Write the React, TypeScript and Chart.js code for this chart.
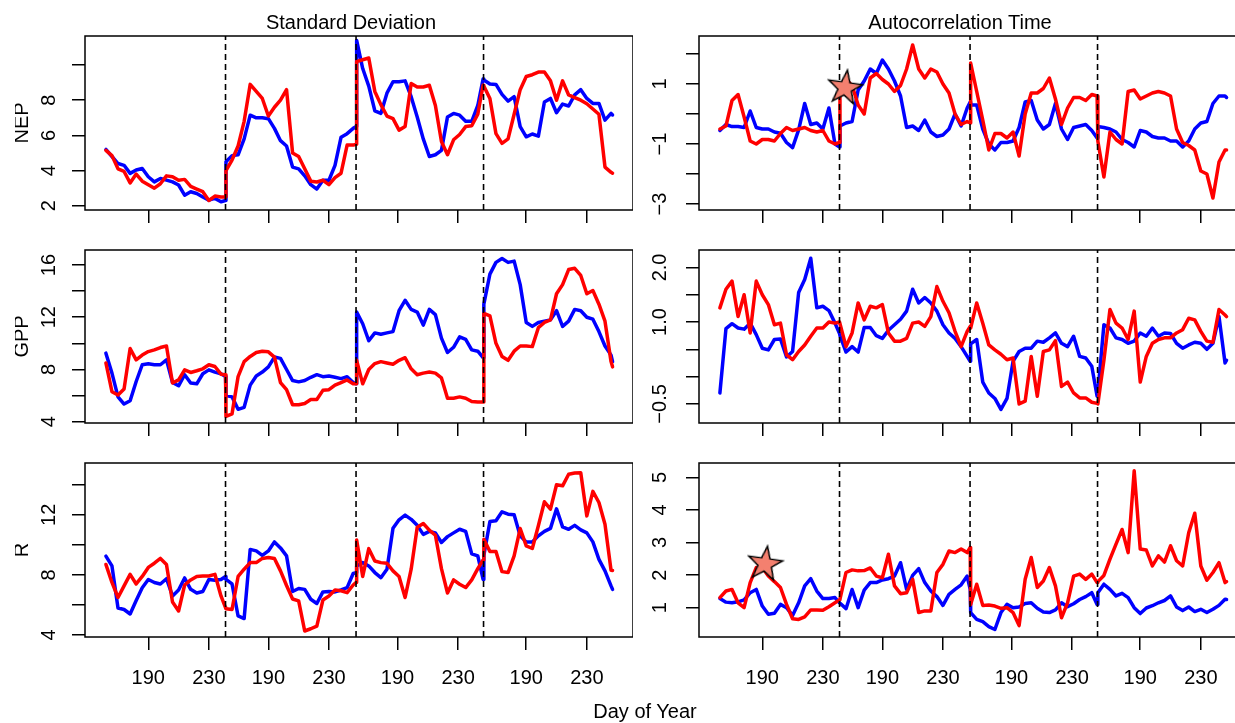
import React, { useEffect, useRef } from 'react';
import { Chart, registerables } from 'chart.js';

Chart.register(...registerables);

const FONT = '"Liberation Sans", Arial, Helvetica, sans-serif';
Chart.defaults.font.family = FONT;

// Four summers laid end to end on one continuous axis; each year is shifted by its offset.
const SEG_OFFSETS = [0, 79.3, 164.6, 249.6];
const SEG_DAYS = [
  [162, 166, 170, 174, 178, 182, 186, 190, 194, 198, 202, 206, 210, 214, 218, 222, 226, 230, 234, 238, 241],
  [162, 166, 170, 174, 178, 182, 186, 190, 194, 198, 202, 206, 210, 214, 218, 222, 226, 230, 234, 238, 242, 246, 248],
  [163, 167, 171, 175, 179, 183, 187, 191, 195, 199, 203, 207, 211, 215, 219, 223, 227, 231, 235, 239, 243, 246.5],
  [162, 166, 170, 174, 178, 182, 186, 190, 194, 198, 202, 206, 210, 214, 218, 222, 226, 230, 234, 238, 242, 246, 247],
];
const TICK_DAYS = [190, 230];
const TICK_LABELS = ['190', '230', '190', '230', '190', '230', '190', '230'];
const YEAR_BREAKS = [241.0, 327.2, 411.4];
const X_RANGE = [148.2, 510.1];

// NEP - standard deviation
const NEP_SD_BLUE = [
  [5.2, 4.8, 4.4, 4.3, 3.84, 4.03, 4.12, 3.65, 3.36, 3.55, 3.46, 3.36, 3.18, 2.6, 2.8, 2.7, 2.5, 2.32, 2.42, 2.23, 2.3],
  [4.5, 4.85, 4.9, 5.8, 7.15, 7.0, 7.0, 6.95, 6.4, 5.7, 5.4, 4.2, 4.1, 3.7, 3.2, 2.95, 3.45, 3.45, 4.3, 5.9, 6.1, 6.4, 6.5],
  [11.4, 9.8, 8.8, 7.4, 7.25, 8.4, 9.05, 9.05, 9.1, 8.2, 7.05, 5.8, 4.8, 4.9, 5.15, 7.05, 7.25, 7.15, 6.8, 6.8, 7.7, 9.2],
  [9.15, 8.92, 8.9, 8.33, 7.95, 8.2, 6.5, 5.92, 6.08, 5.96, 7.9, 8.1, 7.29, 7.78, 7.67, 8.3, 8.6, 8.1, 7.82, 7.82, 6.87, 7.25, 7.16],
];
const NEP_SD_RED = [
  [5.15, 4.85, 4.1, 3.95, 3.3, 3.8, 3.4, 3.2, 3.0, 3.25, 3.7, 3.65, 3.45, 3.5, 3.1, 2.95, 2.8, 2.3, 2.55, 2.5, 2.5],
  [4.0, 4.6, 5.4, 6.8, 8.9, 8.5, 8.1, 7.1, 7.6, 8.0, 8.6, 5.0, 4.8, 4.1, 3.4, 3.35, 3.45, 3.2, 3.6, 3.85, 5.45, 5.45, 5.5],
  [10.2, 10.3, 10.4, 8.5, 7.75, 7.1, 6.95, 6.3, 6.5, 8.95, 8.75, 8.75, 8.85, 7.7, 5.65, 4.9, 5.75, 6.05, 6.5, 6.55, 7.2, 8.85],
  [8.8, 8.1, 6.1, 5.55, 5.8, 7.2, 8.6, 9.35, 9.45, 9.6, 9.6, 9.1, 8.0, 9.1, 8.3, 8.15, 8.0, 7.8, 7.5, 7.2, 4.2, 3.9, 3.85],
];

// NEP - autocorrelation time
const NEP_AC_BLUE = [
  [-0.55, -0.35, -0.42, -0.42, -0.45, 0.1, -0.45, -0.5, -0.5, -0.6, -0.64, -0.95, -1.12, -0.53, 0.35, -0.35, -0.3, -0.5, 0.2, -1.0, -1.1],
  [-0.4, -0.3, -0.25, 0.8, 1.1, 1.5, 1.35, 1.8, 1.5, 1.1, 0.6, -0.45, -0.4, -0.55, -0.2, -0.6, -0.75, -0.7, -0.5, 0.0, -0.4, 0.2, 0.4],
  [0.3, 0.3, -0.5, -1.0, -1.2, -0.95, -0.95, -0.9, -0.45, 0.4, 0.45, -0.2, -0.5, -0.35, 0.35, -0.5, -0.85, -0.45, -0.4, -0.35, -0.55, -0.8],
  [-0.42, -0.45, -0.5, -0.6, -0.85, -0.95, -1.1, -0.55, -0.6, -0.75, -0.8, -0.8, -0.9, -0.9, -1.1, -0.9, -0.5, -0.3, -0.25, 0.35, 0.6, 0.6, 0.55],
];
const NEP_AC_RED = [
  [-0.5, -0.4, 0.45, 0.65, -0.1, -0.9, -1.0, -0.85, -0.85, -0.9, -0.65, -0.45, -0.55, -0.5, -0.45, -0.55, -0.6, -0.55, -0.9, -1.0, -0.95],
  [0.6, 1.15, 0.95, 0.3, 0.0, 1.2, 1.35, 1.15, 1.0, 0.75, 0.95, 1.5, 2.3, 1.5, 1.2, 1.5, 1.4, 1.0, 0.7, 0.0, -0.35, -0.25, -0.3],
  [1.7, 0.75, -0.2, -1.2, -0.65, -0.65, -0.8, -0.6, -1.4, 0.0, 0.7, 0.7, 0.85, 1.2, 0.5, -0.35, 0.2, 0.55, 0.55, 0.45, 0.65, 0.6],
  [-0.9, -2.1, -0.6, -0.85, -1.0, 0.75, 0.8, 0.5, 0.6, 0.7, 0.75, 0.7, 0.6, -0.5, -0.95, -1.05, -1.2, -1.9, -2.0, -2.8, -1.6, -1.2, -1.2],
];

// GPP - standard deviation
const GPP_SD_BLUE = [
  [9.25, 7.72, 5.9, 5.35, 5.6, 7.08, 8.36, 8.43, 8.36, 8.36, 8.74, 7.0, 6.75, 7.6, 6.96, 6.9, 7.67, 7.97, 7.8, 7.67, 7.46],
  [6.0, 5.9, 4.95, 5.1, 6.8, 7.5, 7.8, 8.2, 8.95, 8.85, 8.0, 7.15, 7.05, 7.15, 7.4, 7.6, 7.45, 7.5, 7.4, 7.3, 7.45, 7.0, 6.9],
  [12.4, 11.5, 10.2, 10.8, 10.7, 10.8, 10.9, 12.5, 13.3, 12.6, 12.4, 11.4, 12.6, 12.2, 10.4, 9.3, 9.7, 10.5, 10.3, 9.5, 9.4, 8.9],
  [13.0, 15.3, 16.2, 16.5, 16.2, 16.3, 14.5, 11.6, 11.3, 11.6, 11.7, 11.8, 12.5, 11.3, 11.7, 12.6, 12.5, 12.0, 11.85, 10.9, 9.8, 9.1, 8.6],
];
const GPP_SD_RED = [
  [8.5, 6.3, 6.04, 6.5, 9.6, 8.74, 9.1, 9.37, 9.5, 9.68, 9.8, 6.96, 7.2, 7.97, 7.77, 7.9, 8.05, 8.36, 8.23, 7.64, 7.6],
  [4.4, 4.6, 7.45, 8.6, 9.0, 9.3, 9.4, 9.35, 8.95, 7.0, 6.45, 5.3, 5.3, 5.4, 5.7, 5.7, 6.4, 6.45, 6.8, 7.0, 7.2, 6.9, 6.9],
  [8.7, 6.9, 8.0, 8.45, 8.6, 8.5, 8.4, 8.7, 8.9, 8.05, 7.6, 7.72, 7.8, 7.72, 7.35, 5.8, 5.8, 5.9, 5.8, 5.55, 5.5, 5.5],
  [12.3, 12.1, 10.0, 9.0, 8.7, 9.4, 9.8, 9.8, 9.75, 11.2, 11.6, 11.8, 13.8, 14.5, 15.65, 15.75, 15.2, 13.8, 14.05, 13.0, 11.7, 8.6, 8.2],
];

// GPP - autocorrelation time
const GPP_AC_BLUE = [
  [-0.3, 0.88, 0.97, 0.89, 0.87, 0.98, 0.77, 0.52, 0.49, 0.68, 0.69, 0.36, 0.46, 1.54, 1.78, 2.17, 1.26, 1.29, 1.21, 0.98, 0.79],
  [0.75, 0.45, 0.55, 0.45, 0.9, 0.9, 0.75, 0.7, 0.85, 0.95, 1.05, 1.2, 1.6, 1.35, 1.45, 1.35, 1.2, 0.95, 0.8, 0.7, 0.55, 0.37, 0.28],
  [0.6, 0.68, -0.1, -0.3, -0.4, -0.6, -0.4, 0.28, 0.46, 0.52, 0.52, 0.65, 0.63, 0.71, 0.8, 0.61, 0.55, 0.74, 0.37, 0.34, 0.19, -0.36],
  [-0.3, 0.95, 0.89, 0.71, 0.68, 0.61, 0.65, 0.8, 0.74, 0.89, 0.74, 0.8, 0.79, 0.61, 0.52, 0.58, 0.63, 0.61, 0.5, 0.61, 1.1, 0.25, 0.3],
];
const GPP_AC_RED = [
  [1.26, 1.6, 1.75, 1.1, 1.5, 0.8, 1.75, 1.5, 1.32, 0.95, 0.98, 0.4, 0.31, 0.46, 0.58, 0.74, 0.89, 0.89, 1.0, 0.98, 1.0],
  [1.0, 0.55, 0.8, 1.35, 1.04, 1.29, 1.26, 1.32, 0.8, 0.65, 0.65, 0.7, 0.98, 1.0, 0.92, 1.1, 1.65, 1.38, 1.17, 0.83, 0.55, 0.83, 0.92],
  [0.89, 1.35, 0.98, 0.58, 0.49, 0.41, 0.31, 0.34, -0.5, -0.45, 0.37, -0.36, 0.46, 0.49, 0.66, -0.18, -0.1, -0.3, -0.39, -0.39, -0.47, -0.49],
  [-0.5, 0.3, 1.23, 0.98, 0.89, 0.68, 1.2, -0.1, 0.37, 0.61, 0.68, 0.71, 0.71, 0.8, 0.86, 1.07, 1.04, 0.83, 0.65, 0.63, 1.23, 1.13, 1.1],
];

// R - standard deviation
const R_SD_BLUE = [
  [9.25, 8.6, 5.8, 5.7, 5.4, 6.3, 7.15, 7.7, 7.5, 7.4, 7.75, 6.6, 7.0, 7.8, 7.04, 6.8, 6.9, 7.7, 7.65, 7.7, 7.9],
  [7.7, 7.4, 5.27, 5.1, 9.7, 9.6, 9.3, 9.6, 10.2, 9.8, 9.27, 6.9, 7.1, 7.04, 6.38, 6.1, 6.87, 6.9, 6.87, 7.0, 7.16, 8.1, 8.15],
  [8.6, 8.82, 8.6, 8.16, 7.82, 8.38, 11.1, 11.67, 11.98, 11.7, 11.3, 10.7, 10.9, 10.8, 10.16, 10.55, 10.8, 11.04, 10.9, 9.4, 9.27, 7.7],
  [9.3, 11.55, 11.6, 12.2, 12.04, 12.0, 10.6, 10.2, 10.2, 10.6, 10.9, 11.1, 12.4, 11.2, 11.04, 11.3, 11.0, 10.8, 10.2, 9.04, 8.27, 7.27, 7.04],
];
const R_SD_RED = [
  [8.7, 7.5, 6.5, 7.27, 8.04, 7.4, 7.9, 8.5, 8.78, 9.1, 8.7, 6.2, 5.6, 7.33, 7.67, 7.9, 7.93, 7.93, 8.04, 6.6, 5.82],
  [5.75, 5.7, 7.9, 8.38, 8.82, 8.82, 9.1, 9.16, 9.1, 8.27, 7.3, 6.4, 6.27, 4.27, 4.42, 4.6, 6.33, 6.6, 7.0, 6.95, 6.82, 7.33, 7.5],
  [10.33, 7.9, 9.75, 8.93, 8.82, 8.78, 8.27, 7.9, 6.5, 8.38, 11.18, 11.42, 10.98, 10.64, 8.42, 6.8, 7.67, 7.38, 7.16, 7.67, 8.42, 9.0],
  [10.38, 9.56, 9.56, 8.22, 8.16, 9.27, 11.09, 9.93, 9.76, 11.27, 12.87, 12.38, 14.0, 13.93, 14.7, 14.78, 14.8, 11.93, 13.56, 12.82, 11.38, 8.31, 8.3],
];

// R - autocorrelation time
const R_AC_BLUE = [
  [1.28, 1.17, 1.15, 1.18, 1.24, 1.46, 1.56, 1.05, 0.8, 0.83, 1.1, 1.0, 0.76, 1.15, 1.67, 1.89, 1.51, 1.28, 1.28, 1.31, 1.15],
  [1.15, 0.97, 1.56, 1.0, 1.54, 1.77, 1.77, 1.85, 1.89, 1.97, 2.38, 1.56, 1.99, 2.2, 1.77, 1.51, 1.34, 1.07, 1.41, 1.56, 1.7, 1.97, 1.56],
  [0.85, 0.64, 0.57, 0.42, 0.33, 0.85, 1.1, 1.0, 1.02, 1.13, 1.15, 0.98, 0.87, 0.85, 0.93, 1.15, 1.03, 1.12, 1.25, 1.34, 1.46, 1.1],
  [1.46, 1.72, 1.56, 1.36, 1.44, 1.31, 1.0, 0.82, 0.99, 1.06, 1.15, 1.22, 1.36, 1.02, 0.91, 1.02, 0.88, 0.95, 0.85, 0.95, 1.07, 1.26, 1.25],
];
const R_AC_RED = [
  [1.31, 1.51, 1.56, 1.15, 1.0, 1.77, 2.23, 2.23, 1.97, 1.8, 1.62, 1.1, 0.66, 0.64, 0.72, 0.93, 0.93, 0.92, 1.03, 1.15, 1.24],
  [1.26, 2.08, 2.16, 2.13, 2.14, 2.22, 1.97, 1.92, 2.64, 1.67, 1.43, 1.46, 1.87, 0.85, 0.9, 0.9, 2.08, 2.33, 2.74, 2.69, 2.8, 2.69, 2.85],
  [1.1, 1.72, 1.07, 1.08, 1.05, 0.98, 1.0, 0.85, 0.45, 1.87, 2.54, 1.62, 1.82, 2.23, 1.67, 0.69, 1.15, 1.97, 2.03, 1.87, 2.03, 1.77],
  [1.8, 1.99, 2.49, 2.95, 3.4, 2.69, 5.2, 2.8, 2.77, 2.28, 2.59, 2.4, 2.9, 2.44, 2.28, 3.3, 3.9, 2.28, 1.84, 2.08, 2.38, 1.77, 1.8],
];

// Highlighted points (star markers): [continuous day, value]
const NEP_AC_STAR = [244.6, 0.87];
const R_AC_STAR = [191.8, 2.34];

// Y axes: range, tick positions, labelled ticks
const Y_NEP_SD = { min: 1.76, max: 11.65, ticks: [2, 4, 6, 8, 10], labels: [2, 4, 6, 8], dec: 0 };
const Y_NEP_AC = { min: -3.2, max: 2.6, ticks: [-3, -2, -1, 0, 1, 2], labels: [-3, -1, 1], dec: 0 };
const Y_GPP_SD = { min: 3.9, max: 17.15, ticks: [4, 6, 8, 10, 12, 14, 16], labels: [4, 8, 12, 16], dec: 0 };
const Y_GPP_AC = { min: -0.85, max: 2.32, ticks: [-0.5, 0, 0.5, 1, 1.5, 2], labels: [-0.5, 1, 2], dec: 1 };
const Y_R_SD = { min: 3.87, max: 15.45, ticks: [4, 6, 8, 10, 12, 14], labels: [4, 8, 12], dec: 0 };
const Y_R_AC = { min: 0.1, max: 5.44, ticks: [1, 2, 3, 4, 5], labels: [1, 2, 3, 4, 5], dec: 0 };

const X_TICKS = SEG_OFFSETS.flatMap((o) => TICK_DAYS.map((d) => d + o));

function toPoints(series: number[][]) {
  const pts: { x: number; y: number }[] = [];
  series.forEach((seg, k) => {
    seg.forEach((v, i) => pts.push({ x: SEG_DAYS[k][i] + SEG_OFFSETS[k], y: v }));
  });
  return pts;
}

function makeStar(R = 18, r = 7.2) {
  const s = Math.ceil(2 * R + 6);
  const c = document.createElement('canvas');
  c.width = s;
  c.height = s;
  const g = c.getContext('2d')!;
  g.translate(s / 2, s / 2);
  g.beginPath();
  for (let i = 0; i < 10; i++) {
    const rad = i % 2 === 0 ? R : r;
    const a = -Math.PI / 2 + (i * Math.PI) / 5;
    g.lineTo(rad * Math.cos(a), rad * Math.sin(a));
  }
  g.closePath();
  g.fillStyle = '#f4806f';
  g.fill();
  g.lineWidth = 1.5;
  g.strokeStyle = '#000';
  g.lineJoin = 'miter';
  g.stroke();
  return c;
}

const FRAME_TOPS = [36, 250, 463];
const FRAME_BOTTOMS = [210, 423, 637];
const COL_LEFT = [15, 629];
const Y_AXIS_W = 70;
const CANVAS_W = 618;
const PAD_TOP = 10;
const X_AXIS_H = 70;
const LINE_W = 3.5;

type PanelCfg = {
  row: number;
  col: number;
  blue: number[][];
  red: number[][];
  y: { min: number; max: number; ticks: number[]; labels: number[]; dec: number };
  title?: string;
  star?: number[];
};

const PANELS: PanelCfg[] = [
  { row: 0, col: 0, blue: NEP_SD_BLUE, red: NEP_SD_RED, y: Y_NEP_SD, title: 'NEP' },
  { row: 0, col: 1, blue: NEP_AC_BLUE, red: NEP_AC_RED, y: Y_NEP_AC, star: NEP_AC_STAR },
  { row: 1, col: 0, blue: GPP_SD_BLUE, red: GPP_SD_RED, y: Y_GPP_SD, title: 'GPP' },
  { row: 1, col: 1, blue: GPP_AC_BLUE, red: GPP_AC_RED, y: Y_GPP_AC },
  { row: 2, col: 0, blue: R_SD_BLUE, red: R_SD_RED, y: Y_R_SD, title: 'R' },
  { row: 2, col: 1, blue: R_AC_BLUE, red: R_AC_RED, y: Y_R_AC, star: R_AC_STAR },
];

function fmt(v: number, dec: number) {
  return v.toFixed(dec).replace('-', '\u2212');
}

function Panel({ cfg }: { cfg: PanelCfg }) {
  const ref = useRef<HTMLCanvasElement>(null);
  const frameH = FRAME_BOTTOMS[cfg.row] - FRAME_TOPS[cfg.row];
  const H = frameH + PAD_TOP + X_AXIS_H;
  const top = FRAME_TOPS[cfg.row] - PAD_TOP;
  const left = COL_LEFT[cfg.col];
  const isBottom = cfg.row === 2;

  useEffect(() => {
    const datasets: any[] = [];
    if (cfg.star) {
      datasets.push({
        data: [{ x: cfg.star[0], y: cfg.star[1] }],
        showLine: false,
        pointStyle: makeStar(),
        pointRadius: 18,
        rotation: 8,
        order: 0,
      });
    }
    YEAR_BREAKS.forEach((b) => {
      datasets.push({
        data: [{ x: b, y: cfg.y.min }, { x: b, y: cfg.y.max }],
        borderColor: '#000',
        borderWidth: 1.6,
        borderDash: [6, 4],
        pointRadius: 0,
        order: 1,
      });
    });
    datasets.push({
      data: toPoints(cfg.red),
      borderColor: '#ff0000',
      borderWidth: LINE_W,
      pointRadius: 0,
      borderJoinStyle: 'round',
      borderCapStyle: 'round',
      order: 2,
    });
    datasets.push({
      data: toPoints(cfg.blue),
      borderColor: '#0000ff',
      borderWidth: LINE_W,
      pointRadius: 0,
      borderJoinStyle: 'round',
      borderCapStyle: 'round',
      order: 3,
    });

    const labelOffset = cfg.col === 0 ? 36 : 38.5;
    const framePlugin = {
      id: 'frameAndLabels',
      afterDraw(chart: any) {
        const { ctx, chartArea } = chart;
        const ys = chart.scales.y;
        ctx.save();
        ctx.strokeStyle = '#000';
        ctx.lineWidth = 1.5;
        ctx.strokeRect(chartArea.left, chartArea.top, chartArea.right - chartArea.left, chartArea.bottom - chartArea.top);
        ctx.fillStyle = '#000';
        ctx.font = `20px ${FONT}`;
        ctx.textAlign = 'center';
        ctx.textBaseline = 'middle';
        cfg.y.labels.forEach((v) => {
          const py = ys.getPixelForValue(v);
          ctx.save();
          ctx.translate(chartArea.left - labelOffset, py);
          ctx.rotate(-Math.PI / 2);
          ctx.fillText(fmt(v, cfg.y.dec), 0, 0);
          ctx.restore();
        });
        if (cfg.title) {
          ctx.save();
          ctx.translate(chartArea.left - 63, (chartArea.top + chartArea.bottom) / 2);
          ctx.rotate(-Math.PI / 2);
          ctx.fillText(cfg.title, 0, 0);
          ctx.restore();
        }
        ctx.restore();
      },
    };

    const chart = new Chart(ref.current!, {
      type: 'line',
      data: { datasets },
      options: {
        animation: false,
        responsive: false,
        maintainAspectRatio: false,
        events: [],
        layout: { autoPadding: false, padding: { top: PAD_TOP, left: 0, right: 0, bottom: 0 } },
        plugins: { legend: { display: false }, tooltip: { enabled: false }, title: { display: false } },
        scales: {
          x: {
            type: 'linear',
            min: X_RANGE[0],
            max: X_RANGE[1],
            afterBuildTicks: (s: any) => {
              s.ticks = X_TICKS.map((v) => ({ value: v }));
            },
            afterFit: (s: any) => {
              s.height = X_AXIS_H;
            },
            grid: { drawOnChartArea: false, drawTicks: true, tickLength: 13, color: '#000', lineWidth: 1.5 },
            border: { display: false },
            ticks: {
              display: isBottom,
              autoSkip: false,
              maxRotation: 0,
              minRotation: 0,
              padding: 16,
              color: '#000',
              font: { family: FONT, size: 20 },
              callback: (_v: any, i: number) => TICK_LABELS[i],
            },
          },
          y: {
            type: 'linear',
            min: cfg.y.min,
            max: cfg.y.max,
            afterBuildTicks: (s: any) => {
              s.ticks = cfg.y.ticks.map((v) => ({ value: v }));
            },
            afterFit: (s: any) => {
              s.width = Y_AXIS_W;
            },
            grid: { drawOnChartArea: false, drawTicks: true, tickLength: 13, color: '#000', lineWidth: 1.5 },
            border: { display: false },
            ticks: { display: false },
          },
        },
      },
      plugins: [framePlugin],
    } as any);
    return () => chart.destroy();
  }, []);

  return (
    <canvas
      ref={ref}
      width={CANVAS_W}
      height={H}
      style={{ position: 'absolute', left, top, width: CANVAS_W, height: H }}
    />
  );
}

const textStyle: React.CSSProperties = {
  position: 'absolute',
  fontFamily: FONT,
  fontSize: 20,
  color: '#000',
  whiteSpace: 'nowrap',
  transform: 'translate(-50%, -50%)',
  lineHeight: 'normal',
};

export default function App() {
  return (
    <div
      style={{
        position: 'fixed',
        left: 0,
        top: 0,
        width: 1235,
        height: 723,
        overflow: 'hidden',
        background: '#fff',
      }}
    >
      {PANELS.map((p, i) => (
        <Panel key={i} cfg={p} />
      ))}
      <div style={{ ...textStyle, left: 351, top: 22 }}>Standard Deviation</div>
      <div style={{ ...textStyle, left: 960, top: 22 }}>Autocorrelation Time</div>
      <div style={{ ...textStyle, left: 645, top: 711 }}>Day of Year</div>
    </div>
  );
}
